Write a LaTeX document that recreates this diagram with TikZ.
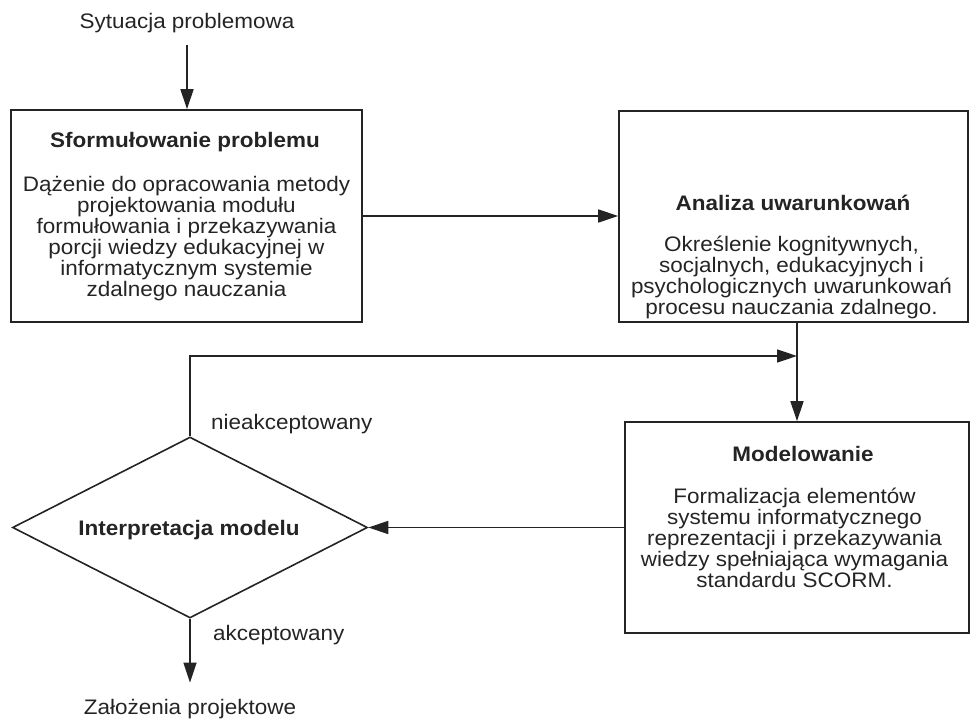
\documentclass[tikz,border=0pt]{standalone}
\usepackage{fontspec}
\setmainfont{Liberation Sans}[FakeStretch=1.07]
\usetikzlibrary{arrows.meta,shapes.geometric}
\definecolor{ink}{HTML}{242424}
\lineskiplimit=-30pt\relax
\begin{document}
\begin{tikzpicture}[x=1pt,y=-1pt,
  every node/.style={text=ink, font=\fontsize{21}{21}\selectfont},
  stage/.style={draw=ink, line width=1.6pt, rectangle, inner sep=0pt},
  decision/.style={draw=ink, line width=1.6pt, diamond, aspect=1, inner sep=0pt},
  heading/.style={font=\fontsize{21}{21}\selectfont\bfseries, anchor=base, inner sep=0pt},
  body/.style={align=center, anchor=north, inner sep=0pt},
  plain/.style={anchor=base, inner sep=0pt},
  branch/.style={anchor=base west, inner sep=0pt},
  flow/.style={draw=ink, line width=1.6pt, -{Triangle[length=20pt,width=13pt]}}
]
\useasboundingbox (0,0) rectangle (970,719);

% process boxes and the decision
\node[stage, minimum width=351pt, minimum height=212pt] (b1) at (186.5,216) {};
\node[stage, minimum width=349pt, minimum height=211pt] (b2) at (793.5,216.5) {};
\node[stage, minimum width=344pt, minimum height=211pt] (b3) at (797,527.5) {};
\node[decision, minimum width=355pt, minimum height=181pt] (dec) at (190,527.5) {};

% box contents
\node[heading] (b1t) at (185,148) {Sformułowanie problemu};
\node[body] (b1b) at (186.5,176.5) {Dążenie do opracowania metody\\projektowania modułu\\formułowania i przekazywania\\porcji wiedzy edukacyjnej w\\informatycznym systemie\\zdalnego nauczania};

\node[heading] (b2t) at (793,211) {Analiza uwarunkowań};
\node[body] (b2b) at (791.5,235.5) {Określenie kognitywnych,\\socjalnych, edukacyjnych i\\psychologicznych uwarunkowań\\procesu nauczania zdalnego.};

\node[heading] (b3t) at (803,461) {Modelowanie};
\node[body] (b3b) at (794.5,487.5) {Formalizacja elementów\\systemu informatycznego\\reprezentacji i przekazywania\\wiedzy spełniająca wymagania\\standardu SCORM.};

\node[heading] (dect) at (189,535) {Interpretacja modelu};

% entry and exit texts, branch labels
\node[plain] (src) at (187,29) {Sytuacja problemowa};
\node[plain] (dst) at (190,714) {Założenia projektowe};
\node[branch] (no) at (211,430) {nieakceptowany};
\node[branch] (yes) at (213,640) {akceptowany};

\coordinate (merge) at (797,356);

% connectors
\draw[flow, shorten <=11pt] (src.south) -- (src.south |- b1.north);
\draw[flow] (b1.east) -- (b1.east -| b2.west);
\draw[flow] (b3.north |- b2.south) -- (b3.north);
\draw[flow] (dec.north) |- (merge);
\draw[flow] (b3.west) -- (b3.west -| dec.east);
\draw[flow, shorten >=16pt] (dec.south) -- (dec.south |- dst.north);
\end{tikzpicture}
\end{document}
